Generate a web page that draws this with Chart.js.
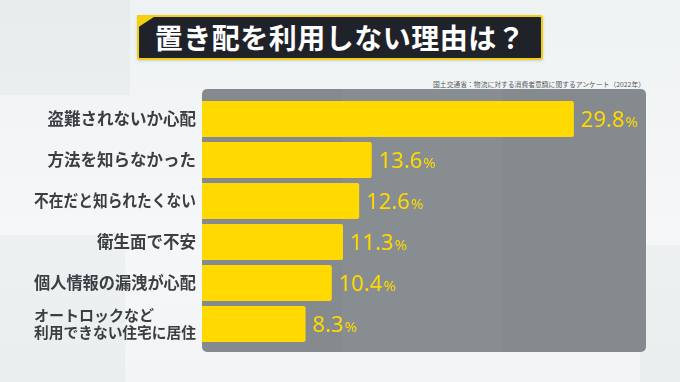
<!DOCTYPE html>
<html lang="ja">
<head>
<meta charset="utf-8">
<script src="https://cdn.jsdelivr.net/npm/chart.js@4/dist/chart.umd.min.js"></script>
<style>
  html, body { margin:0; padding:0; }
  body { width:680px; height:382px; overflow:hidden; position:relative;
         background: linear-gradient(180deg, #eff2f3 0%, #f5f7f8 60%, #f2f4f5 100%);
         font-family: "Noto Sans CJK JP", "Noto Sans", sans-serif; }
  .shape { position:absolute; background: rgba(120,135,145,0.05); }
  #titlebox { position:absolute; left:137px; top:15px; width:402px; height:41px;
              background:#1f2329; border:2px solid #f2cf10; border-radius:3px;
              color:#fff; font-weight:700; font-size:28px; line-height:41px;
              text-align:center; letter-spacing:0.5px; white-space:nowrap;
              box-shadow: 0 1px 3px rgba(0,0,0,0.15); }
  #titlebox::before { content:""; position:absolute; left:-2px; top:-2px; width:20px; height:13px;
              background:#f2cf10; clip-path: polygon(0 0, 100% 0, 0 100%); }
  #source { position:absolute; right:35px; top:79px; font-size:6.8px; color:#555b60; white-space:nowrap; }
  canvas { position:absolute; left:0; top:0; }
</style>
</head>
<body>
<div class="shape" style="left:0;top:0;width:130px;height:95px;"></div>
<div class="shape" style="left:0;top:235px;width:125px;height:147px;"></div>
<div class="shape" style="left:640px;top:245px;width:40px;height:137px;"></div>
<div id="titlebox">置き配を利用しない理由は？</div>
<div id="source">国土交通省：物流に対する消費者意識に関するアンケート（2022年）</div>
<canvas id="c" width="680" height="382"></canvas>
<script>
const categories = [
  '盗難されないか心配',
  '方法を知らなかった',
  '不在だと知られたくない',
  '衛生面で不安',
  '個人情報の漏洩が心配',
  ['オートロックなど', '利用できない住宅に居住']
];
const values = [29.8, 13.6, 12.6, 11.3, 10.4, 8.3];
const valueUnit = '%';

const YELLOW = '#ffd900';

const panelPlugin = {
  id: 'panel',
  beforeDraw(chart) {
    const { ctx, chartArea: ca } = chart;
    const x0 = ca.left, y0 = ca.top - 9.5, x1 = ca.right + 1, y1 = ca.bottom + 7.5;
    ctx.save();
    ctx.fillStyle = '#858a8f';
    ctx.beginPath();
    ctx.roundRect(x0, y0, x1 - x0, y1 - y0, 5);
    ctx.fill();
    ctx.fillStyle = 'rgba(255,255,255,0.03)';
    ctx.fillRect(x0 + 140, y0, 160, y1 - y0);
    ctx.restore();
  }
};

const labelPlugin = {
  id: 'catLabels',
  afterDraw(chart) {
    const { ctx, chartArea: ca } = chart;
    const yScale = chart.scales.y;
    const xr = ca.left - 6;
    const maxW = 162;
    ctx.save();
    ctx.fillStyle = '#3b3e42';
    ctx.textBaseline = 'middle';
    chart.data.labels.forEach((lab, i) => {
      const y = yScale.getPixelForValue(i);
      if (Array.isArray(lab)) {
        ctx.font = 'bold 15px "Noto Sans CJK JP"';
        let w = 0;
        lab.forEach(t => { w = Math.max(w, Math.min(maxW, ctx.measureText(t).width)); });
        ctx.textAlign = 'left';
        const lh = 17;
        lab.forEach((t, k) => {
          ctx.fillText(t, xr - w, y + (k - (lab.length - 1) / 2) * lh, maxW);
        });
      } else {
        ctx.font = 'bold 16.5px "Noto Sans CJK JP"';
        ctx.textAlign = 'right';
        ctx.fillText(lab, xr, y, maxW);
      }
    });
    ctx.restore();
  }
};

const valuePlugin = {
  id: 'values',
  afterDatasetsDraw(chart) {
    const { ctx } = chart;
    const meta = chart.getDatasetMeta(0);
    ctx.save();
    ctx.fillStyle = YELLOW;
    ctx.textAlign = 'left';
    ctx.textBaseline = 'alphabetic';
    meta.data.forEach((bar, i) => {
      const txt = chart.data.datasets[0].data[i].toFixed(1);
      const x = bar.x + 7, y = bar.y + 8;
      ctx.font = '22px "Noto Sans"';
      ctx.fillText(txt, x, y);
      const w = ctx.measureText(txt).width;
      ctx.font = '15px "Noto Sans"';
      ctx.fillText(valueUnit, x + w + 1, y);
    });
    ctx.restore();
  }
};

new Chart(document.getElementById('c'), {
  type: 'bar',
  data: {
    labels: categories,
    datasets: [{
      data: values,
      backgroundColor: YELLOW,
      borderRadius: 2,
      barPercentage: 0.88,
      categoryPercentage: 1
    }]
  },
  options: {
    indexAxis: 'y',
    responsive: false,
    animation: false,
    layout: { padding: { left: 202, right: 35, top: 98.5, bottom: 37.5 } },
    scales: {
      x: { display: false, min: 0, max: 35.5 },
      y: { display: false }
    },
    plugins: { legend: { display: false }, tooltip: { enabled: false } }
  },
  plugins: [panelPlugin, labelPlugin, valuePlugin]
});
</script>
</body>
</html>
